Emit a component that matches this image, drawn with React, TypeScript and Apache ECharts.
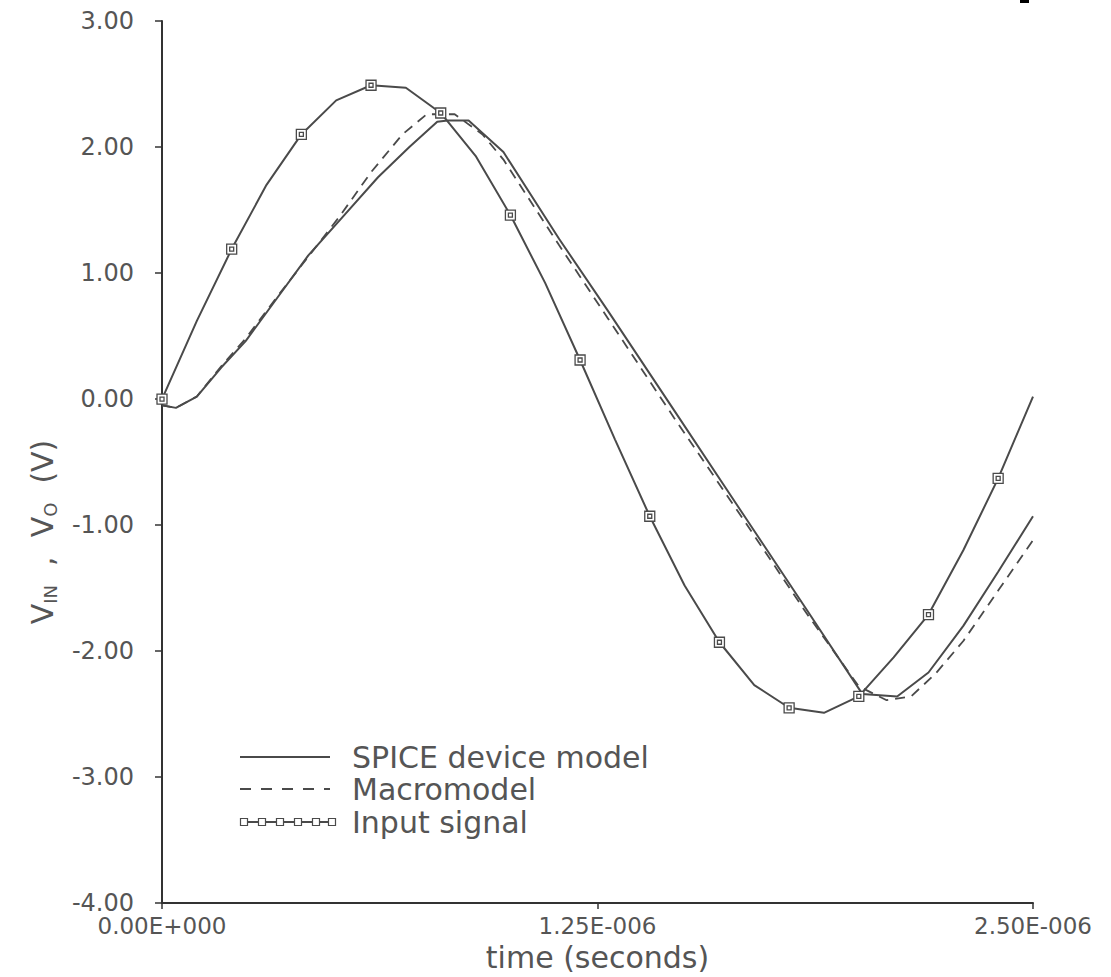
import React, { useEffect, useRef } from "react";
import * as echarts from "echarts";

// time in microseconds (axis shown as seconds in E notation)
const spiceT = [0, 0.04, 0.1, 0.17, 0.24, 0.33, 0.42, 0.52, 0.62, 0.71, 0.79, 0.82, 0.88, 0.98, 1.14, 1.28, 1.47, 1.66, 1.85, 2.01, 2.11, 2.2, 2.3, 2.4, 2.5];
const spiceV = [-0.05, -0.07, 0.02, 0.25, 0.46, 0.8, 1.14, 1.45, 1.76, 2.0, 2.2, 2.21, 2.21, 1.96, 1.27, 0.7, -0.09, -0.88, -1.67, -2.34, -2.36, -2.17, -1.8, -1.37, -0.93];

const macroT = [0, 0.04, 0.1, 0.17, 0.24, 0.33, 0.42, 0.51, 0.6, 0.69, 0.76, 0.84, 0.92, 0.98, 1.14, 1.28, 1.47, 1.66, 1.85, 2.0, 2.08, 2.15, 2.22, 2.3, 2.4, 2.5];
const macroV = [-0.05, -0.07, 0.02, 0.26, 0.48, 0.81, 1.13, 1.45, 1.8, 2.1, 2.26, 2.26, 2.1, 1.9, 1.22, 0.64, -0.15, -0.92, -1.7, -2.28, -2.39, -2.36, -2.18, -1.92, -1.52, -1.12];

const inputT = [0, 0.1, 0.2, 0.3, 0.4, 0.5, 0.6, 0.7, 0.8, 0.9, 1.0, 1.1, 1.2, 1.3, 1.4, 1.5, 1.6, 1.7, 1.8, 1.9, 2.0, 2.1, 2.2, 2.3, 2.4, 2.5];
const inputV = [0, 0.62, 1.19, 1.7, 2.1, 2.37, 2.49, 2.47, 2.27, 1.93, 1.46, 0.92, 0.31, -0.32, -0.93, -1.48, -1.93, -2.27, -2.45, -2.49, -2.36, -2.05, -1.71, -1.2, -0.63, 0.02];

const xTickLabels = ["0.00E+000", "1.25E-006", "2.50E-006"];
const seriesNames = ["SPICE device model", "Macromodel", "Input signal"];

const LINE = "#4a4a4a";
const TXT = "#555";
const FONT = '"DejaVu Sans", sans-serif';
const MARK = "path://M0 0H10V10H0ZM3 3H7V7H3Z";

function App() {
  const ref = useRef<HTMLDivElement>(null);
  useEffect(() => {
    const chart = echarts.init(ref.current as HTMLDivElement, null, { renderer: "svg" });
    const spice = spiceT.map((t, i) => [t, spiceV[i]]);
    const macro = macroT.map((t, i) => [t, macroV[i]]);
    const input = inputT.map((t, i) =>
      i % 2 === 0 ? { value: [t, inputV[i]] } : { value: [t, inputV[i]], symbol: "none" }
    );
    const legendY = [757, 789, 822];
    const legendMarkX = [244, 262, 280, 298, 316, 332];
    chart.setOption({
      animation: false,
      backgroundColor: "#fff",
      grid: { left: 162, right: 78, top: 21, bottom: 63, containLabel: false },
      xAxis: {
        type: "value",
        min: 0,
        max: 2.5,
        interval: 1.25,
        name: "time (seconds)",
        nameLocation: "middle",
        nameGap: 34,
        nameTextStyle: { fontFamily: FONT, fontSize: 30, color: TXT },
        axisLine: { show: true, onZero: false, lineStyle: { color: "#333", width: 2 } },
        axisTick: { show: true, length: 6, lineStyle: { color: "#333", width: 1.5 } },
        splitLine: { show: false },
        axisLabel: {
          fontFamily: FONT,
          fontSize: 23,
          color: TXT,
          margin: 11,
          formatter: (v: number) => xTickLabels[Math.round(v / 1.25)] ?? "",
        },
      },
      yAxis: {
        type: "value",
        min: -4,
        max: 3,
        interval: 1,
        axisLine: { show: true, onZero: false, lineStyle: { color: "#333", width: 2 } },
        axisTick: { show: true, length: 7, lineStyle: { color: "#333", width: 1.5 } },
        splitLine: { show: false },
        axisLabel: {
          fontFamily: FONT,
          fontSize: 24,
          color: TXT,
          margin: 28,
          formatter: (v: number) => v.toFixed(2),
        },
      },
      series: [
        {
          type: "line",
          name: seriesNames[0],
          data: spice,
          symbol: "none",
          lineStyle: { color: LINE, width: 2 },
          z: 3,
        },
        {
          type: "line",
          name: seriesNames[1],
          data: macro,
          symbol: "none",
          lineStyle: { color: LINE, width: 1.8, type: [10, 7] },
          z: 2,
        },
        {
          type: "line",
          name: seriesNames[2],
          data: input,
          symbol: MARK,
          symbolSize: 10,
          showSymbol: true,
          itemStyle: { color: "#fff", borderColor: LINE, borderWidth: 1.3 },
          lineStyle: { color: LINE, width: 2 },
          z: 4,
        },
      ],
      graphic: [
        { type: "rect", shape: { x: 1020, y: 0, width: 9, height: 3 }, style: { fill: "#000" } },
        {
          type: "text",
          x: 42,
          y: 532,
          rotation: Math.PI / 2,
          style: {
            text: "V{s|IN}  ,  V{s|O}  (V)",
            fontFamily: FONT,
            fontSize: 30,
            fill: TXT,
            align: "center",
            verticalAlign: "middle",
            rich: {
              s: { fontFamily: FONT, fontSize: 18, fill: TXT, padding: [16, 0, 0, 0] },
            },
          },
        },
        { type: "line", shape: { x1: 240, y1: legendY[0], x2: 330, y2: legendY[0] }, style: { stroke: LINE, lineWidth: 2 } },
        { type: "line", shape: { x1: 240, y1: legendY[1], x2: 330, y2: legendY[1] }, style: { stroke: LINE, lineWidth: 2, lineDash: [11, 10] } },
        { type: "line", shape: { x1: 240, y1: legendY[2], x2: 334, y2: legendY[2] }, style: { stroke: LINE, lineWidth: 2 } },
        ...legendMarkX.map((x) => ({
          type: "rect",
          shape: { x: x - 3.5, y: legendY[2] - 3.5, width: 7, height: 7 },
          style: { fill: "#fff", stroke: LINE, lineWidth: 1.2 },
        })),
        ...seriesNames.map((n, i) => ({
          type: "text",
          x: 352,
          y: legendY[i],
          style: { text: n, fontFamily: FONT, fontSize: 30, fill: TXT, verticalAlign: "middle" },
        })),
      ],
    });
    return () => chart.dispose();
  }, []);
  return (
    <div
      ref={ref}
      style={{ position: "absolute", left: 0, top: 0, width: 1111, height: 977, background: "#fff" }}
    />
  );
}

export default App;
